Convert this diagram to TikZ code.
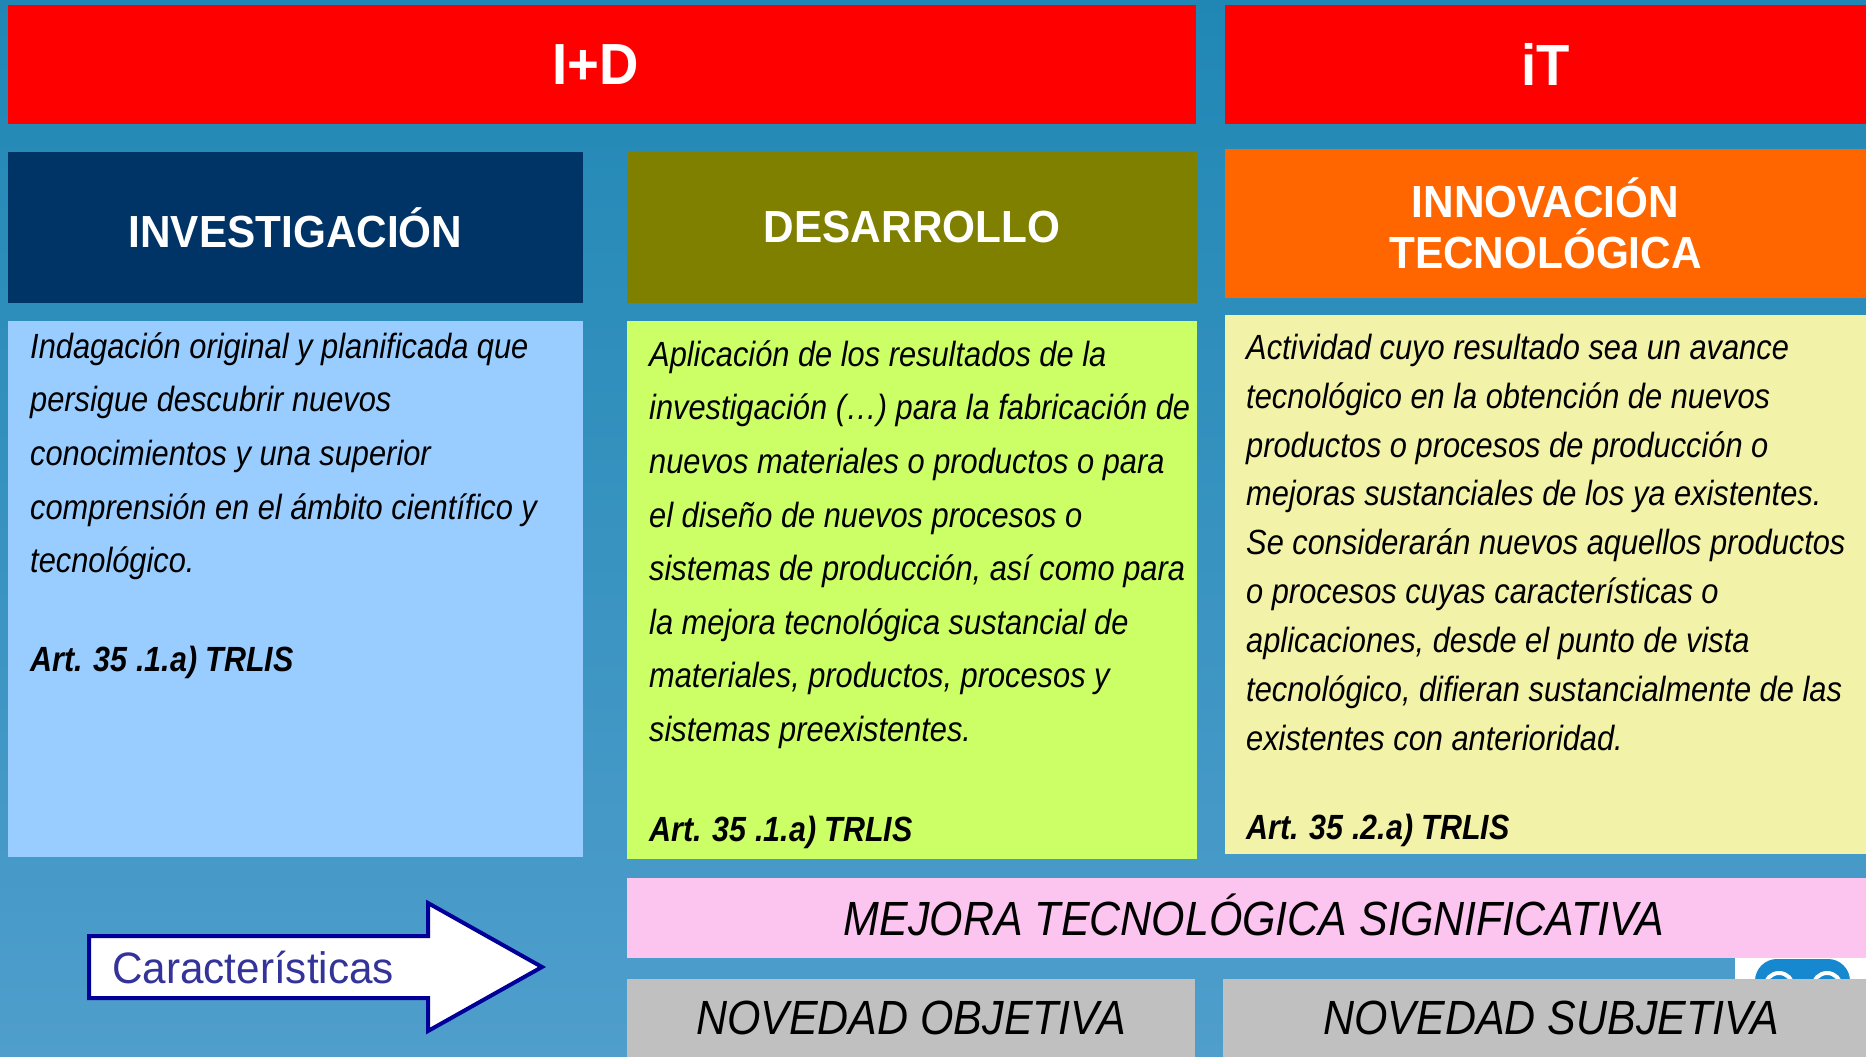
\documentclass[tikz,border=0pt]{standalone}
\usepackage{fontspec}
\newfontfamily\bodyfont{Liberation Sans}[FakeStretch=0.88]
\newfontfamily\hdrfont{Liberation Sans}[FakeStretch=0.94]
\newfontfamily\artfont{Liberation Sans}[FakeStretch=0.87]
\newfontfamily\bandfont{Liberation Sans}[FakeStretch=0.895]
\newfontfamily\carfont{Liberation Sans}[FakeStretch=0.96]
\definecolor{bgtop}{HTML}{2087B4}
\definecolor{bgbot}{HTML}{4F9ECC}
\definecolor{idred}{HTML}{FF0000}
\definecolor{invblue}{HTML}{003366}
\definecolor{olive}{HTML}{808000}
\definecolor{orange}{HTML}{FF6600}
\definecolor{ltblue}{HTML}{99CCFF}
\definecolor{ltgreen}{HTML}{CCFF66}
\definecolor{ltyellow}{HTML}{F2F2A8}
\definecolor{pink}{HTML}{FCC5F0}
\definecolor{gray}{HTML}{C0C0C0}
\definecolor{navy}{HTML}{000099}
\definecolor{cartxt}{HTML}{333399}
\definecolor{iconblue}{HTML}{1688D0}
\tikzset{
  box/.style={draw=none, inner sep=0pt, outer sep=0pt, anchor=center},
  hdr/.style={box, text=white, align=center, font=\hdrfont\bfseries\fontsize{45}{51}\selectfont},
  bighdr/.style={box, text=white, font=\hdrfont\bfseries\fontsize{58}{60}\selectfont},
  bodytxt/.style={inner sep=0pt, anchor=north west, align=left, text=black},
  arttxt/.style={inner sep=0pt, anchor=base west, text=black, font=\artfont\bfseries\itshape\fontsize{35}{40}\selectfont},
  bandtxt/.style={box, text=black, font=\bandfont\itshape\fontsize{48}{52}\selectfont},
  arrowshape/.style={draw=navy, line width=4pt, fill=white, line join=miter},
}
\begin{document}
\begin{tikzpicture}[x=1pt,y=-1pt]
\useasboundingbox (0,0) rectangle (1866,1057);
\shade[top color=bgtop, bottom color=bgbot] (0,0) rectangle (1866,1057);

% top headers
\node[box, fill=idred, minimum width=1188pt, minimum height=119pt] (id) at (602,64.5) {};
\node[bighdr] (idlbl) at (596,65) {I+D};
\node[bighdr, fill=idred, minimum width=641pt, minimum height=119pt] (it) at (1545.5,64.5) {iT};

% column headers
\node[hdr, fill=invblue, minimum width=575pt, minimum height=151pt] (inv) at (295.5,227.5) {INVESTIGACIÓN};
\node[hdr, fill=olive, minimum width=570pt, minimum height=151pt] (des) at (912,227.5) {DESARROLLO};
\node[hdr, fill=orange, minimum width=641pt, minimum height=149pt] (inn) at (1545.5,223.5) {INNOVACIÓN\\TECNOLÓGICA};

% content boxes
\node[box, fill=ltblue, minimum width=575pt, minimum height=536pt] (invbox) at (295.5,589) {};
\node[box, fill=ltgreen, minimum width=570pt, minimum height=538pt] (desbox) at (912,590) {};
\node[box, fill=ltyellow, minimum width=641pt, minimum height=539pt] (innbox) at (1545.5,584.5) {};

\node[bodytxt, font=\bodyfont\itshape\fontsize{35}{53.6}\selectfont] (invtxt) at (30,330)
 {\rule{0pt}{28pt}Indagación original y planificada que\\
  persigue descubrir nuevos\\
  conocimientos y una superior\\
  comprensión en el ámbito científico y\\
  tecnológico.};
\node[arttxt] (invart) at (30,671) {Art. 35 .1.a) TRLIS};

\node[bodytxt, font=\bodyfont\itshape\fontsize{35}{53.6}\selectfont] (destxt) at (649,338)
 {\rule{0pt}{28pt}Aplicación de los resultados de la\\
  investigación (…) para la fabricación de\\
  nuevos materiales o productos o para\\
  el diseño de nuevos procesos o\\
  sistemas de producción, así como para\\
  la mejora tecnológica sustancial de\\
  materiales, productos, procesos y\\
  sistemas preexistentes.};
\node[arttxt] (desart) at (649,841) {Art. 35 .1.a) TRLIS};

\node[bodytxt, font=\bodyfont\itshape\fontsize{35}{48.9}\selectfont] (inntxt) at (1246,331)
 {\rule{0pt}{28pt}Actividad cuyo resultado sea un avance\\
  tecnológico en la obtención de nuevos\\
  productos o procesos de producción o\\
  mejoras sustanciales de los ya existentes.\\
  Se considerarán nuevos aquellos productos\\
  o procesos cuyas características o\\
  aplicaciones, desde el punto de vista\\
  tecnológico, difieran sustancialmente de las\\
  existentes con anterioridad.};
\node[arttxt] (innart) at (1246,839) {Art. 35 .2.a) TRLIS};

% small icon peeking out
\begin{scope}
  \clip (1735,958) rectangle (1866,979);
  \fill[white] (1735,958) rectangle (1866,979);
  \fill[iconblue, rounded corners=22pt] (1755,959) rectangle (1850,1060);
  \draw[white, line width=4pt] (1779,987) circle (14);
  \draw[white, line width=4pt] (1827,987) circle (14);
\end{scope}

% bottom bands
\node[box, fill=pink, minimum width=1239pt, minimum height=80pt] (mejora) at (1246.5,918) {};
\node[bandtxt] (mejoralbl) at (1254,915) {MEJORA TECNOLÓGICA SIGNIFICATIVA};
\node[bandtxt, fill=gray, minimum width=568pt, minimum height=78pt] (nobj) at (911,1018) {NOVEDAD OBJETIVA};
\node[box, fill=gray, minimum width=643pt, minimum height=78pt] (nsub) at (1544.5,1018) {};
\node[bandtxt] (nsublbl) at (1551.5,1018) {NOVEDAD SUBJETIVA};

% arrow
\draw[arrowshape] (89,936) -- (428,936) -- (428,903) -- (542,967) -- (428,1031) -- (428,998) -- (89,998) -- cycle;
\node[inner sep=0pt, anchor=base west, text=cartxt, font=\carfont\fontsize{44}{48}\selectfont] (car) at (112,983) {Características};
\end{tikzpicture}
\end{document}
